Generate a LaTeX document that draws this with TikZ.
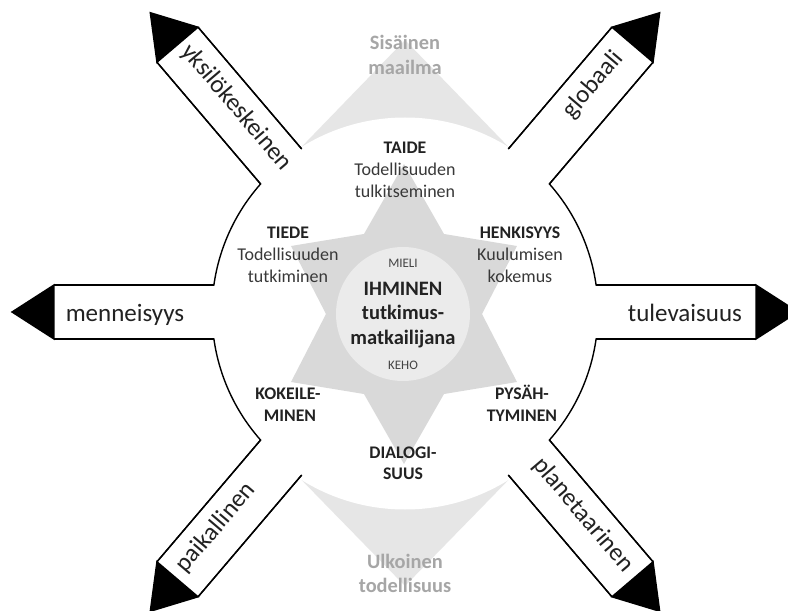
\documentclass[tikz,border=0pt]{standalone}
\usepackage{fontspec}
\setmainfont{Carlito}
\definecolor{spike}{HTML}{E6E6E6}
\definecolor{stargray}{HTML}{D9D9D9}
\definecolor{innergray}{HTML}{EBEBEB}
\definecolor{softtext}{HTML}{A6A6A6}
\definecolor{ink}{HTML}{222222}
\tikzset{
  outl/.style={line width=1.4pt, line join=miter, draw=black},
  lbl/.style={inner sep=0pt, font=\fontsize{25}{30}\selectfont, text=ink},
  rlbl/.style={lbl, anchor=center, text height=0.7em, text depth=0.2em},
  hd/.style={anchor=base, inner sep=0pt, font=\bfseries\fontsize{17.7}{21}\selectfont, text=ink},
  sub/.style={anchor=base, inner sep=0pt, font=\fontsize{18}{22}\selectfont, text=ink!90},
  ctr/.style={anchor=base, inner sep=0pt, font=\bfseries\fontsize{20.5}{24}\selectfont, text=ink},
  sm/.style={anchor=base, inner sep=0pt, font=\fontsize{13}{15}\selectfont, text=ink!85},
  gr/.style={anchor=base, inner sep=0pt, font=\bfseries\fontsize{20.4}{24}\selectfont, text=softtext},
}
\begin{document}
\begin{tikzpicture}[x=1pt,y=1pt]
\useasboundingbox (-405,-299) rectangle (383,312);
\fill[white] (-405,-299) rectangle (383,312);

% outer spikes (straight triangles, bases hidden by the white disk and bands)
\fill[spike] (0,272) -- (-121,147) -- (121,147) -- cycle;
\fill[spike] (0,-274) -- (-121,-150) -- (121,-150) -- cycle;

% white disk
\fill[white] (0,-1.5) circle[radius=196];

% star
\begin{scope}[shift={(-1,-2)}]
\fill[stargray] (0,150) -- (40,80) -- (113,68) -- (78,0) -- (113,-68) -- (40,-80)
  -- (0,-150) -- (-40,-80) -- (-113,-68) -- (-78,0) -- (-113,68) -- (-40,80) -- cycle;
\end{scope}
\fill[innergray] (-2,-2) circle[radius=67];

% bands
\foreach \a in {0,49.6,130.4,180,229.6,310.4}{
  \begin{scope}[rotate=\a]
    \fill[white] (182,-27) rectangle (351,27);
    \draw[outl] (191.1,27) -- (351,27);
    \draw[outl] (191.1,-27) -- (351,-27);
    \filldraw[outl, fill=black] (351,27) -- (393,0) -- (351,-27) -- cycle;
  \end{scope}
}

% circle arcs joining the bands
\draw[outl] (45.2:352.04) -- (41.56:193) arc[start angle=41.56, end angle=8.04, radius=193] -- (4.4:352.04);
\draw[outl] (134.8:352.04) -- (138.44:193) arc[start angle=138.44, end angle=171.96, radius=193] -- (175.6:352.04);
\draw[outl] (184.4:352.04) -- (188.04:193) arc[start angle=188.04, end angle=221.56, radius=193] -- (225.2:352.04);
\draw[outl] (355.6:352.04) -- (351.96:193) arc[start angle=351.96, end angle=318.44, radius=193] -- (314.8:352.04);
\draw[outl] (126:352.04) -- (122.36:193);
\draw[outl] (54:352.04) -- (57.64:193);
\draw[outl] (234:352.04) -- (237.64:193);
\draw[outl] (306:352.04) -- (302.36:193);

% arrow labels
\node[lbl, anchor=base] (menn) at (-280,-9) {menneisyys};
\node[lbl, anchor=base] (tule) at (280,-9) {tulevaisuus};
\node[rlbl, rotate=-49.6] (yksi) at (130.4:265) {yksilökeskeinen};
\node[rlbl, rotate=49.6] (glob) at (49.6:295) {globaali};
\node[rlbl, rotate=49.6] (paik) at (229.6:287) {paikallinen};
\node[rlbl, rotate=-49.6] (plan) at (310.4:270) {planetaarinen};

% top / bottom gray texts
\node[gr] (sis1) at (0,262) {Sisäinen};
\node[gr] (sis2) at (0,237) {maailma};
\node[gr] (ulk1) at (0,-256) {Ulkoinen};
\node[gr] (ulk2) at (0,-280) {todellisuus};

% segment texts
\node[hd] (taide) at (0,158) {TAIDE};
\node[sub] (taide2) at (0,136) {Todellisuuden};
\node[sub] (taide3) at (0,114) {tulkitseminen};

\node[hd] (tiede) at (-117,74) {TIEDE};
\node[sub] (tiede2) at (-117,52) {Todellisuuden};
\node[sub] (tiede3) at (-117,30) {tutkiminen};

\node[hd] (henk) at (115,74) {HENKISYYS};
\node[sub] (henk2) at (115,52) {Kuulumisen};
\node[sub] (henk3) at (115,30) {kokemus};

\node[hd] (koke) at (-117,-87) {KOKEILE-};
\node[hd] (koke2) at (-115,-109) {MINEN};

\node[hd] (pysa) at (117,-87) {PYSÄH-};
\node[hd] (pysa2) at (117,-109) {TYMINEN};

\node[hd] (dial) at (-2,-146) {DIALOGI-};
\node[hd] (dial2) at (-2,-167) {SUUS};

% centre
\node[sm] (mieli) at (-2,45) {MIELI};
\node[ctr] (ihm1) at (-2,17) {IHMINEN};
\node[ctr] (ihm2) at (-2,-7.5) {tutkimus-};
\node[ctr] (ihm3) at (-2,-32) {matkailijana};
\node[sm] (keho) at (-2,-57) {KEHO};
\end{tikzpicture}
\end{document}
